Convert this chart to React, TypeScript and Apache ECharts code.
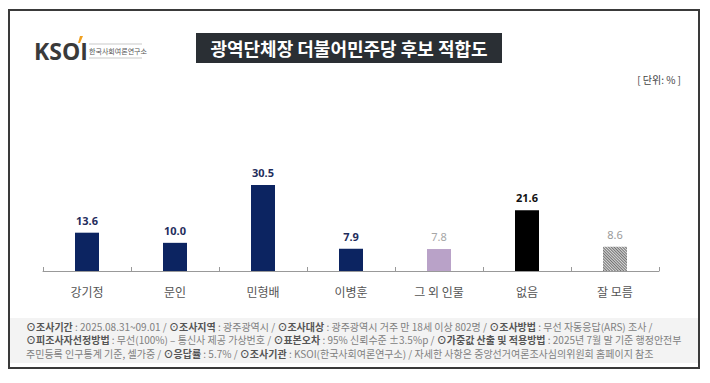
import React, { useEffect, useRef } from "react";
import * as echarts from "echarts";

const categories = ["강기정", "문인", "민형배", "이병훈", "그 외 인물", "없음", "잘 모름"];
const values = [13.6, 10.0, 30.5, 7.9, 7.8, 21.6, 8.6];
const barColors = ["#0c2461", "#0c2461", "#0c2461", "#0c2461", "#b9a2c8", "#000000", "#c8c8c8"];
const labelColors = ["#1f2d5c", "#1f2d5c", "#1f2d5c", "#1f2d5c", "#a6a6a6", "#111111", "#9a9a9a"];
const labelWeights = ["bold", "bold", "bold", "bold", "normal", "bold", "normal"];

const title = "광역단체장 더불어민주당 후보 적합도";
const unitText = "[ 단위: % ]";

type Seg = [string, boolean];
const footerLines: Seg[][] = [
  [
    ["⊙조사기간", true], [" : 2025.08.31~09.01 / ", false],
    ["⊙조사지역", true], [" : 광주광역시 / ", false],
    ["⊙조사대상", true], [" : 광주광역시 거주 만 18세 이상 802명 / ", false],
    ["⊙조사방법", true], [" : 무선 자동응답(ARS) 조사 /", false],
  ],
  [
    ["⊙피조사자선정방법", true], [" : 무선(100%) – 통신사 제공 가상번호 / ", false],
    ["⊙표본오차", true], [" : 95% 신뢰수준 ±3.5%p / ", false],
    ["⊙가중값 산출 및 적용방법", true], [" : 2025년 7월 말 기준 행정안전부", false],
  ],
  [
    ["주민등록 인구통계 기준, 셀가중 / ", false],
    ["⊙응답률", true], [" : 5.7% / ", false],
    ["⊙조사기관", true], [" : KSOI(한국사회여론연구소) / ", false],
    ["자세한 사항은 중앙선거여론조사심의위원회 홈페이지 참조", false],
  ],
];

const FONT = "'Noto Sans CJK KR', 'Noto Sans', sans-serif";

export default function App() {
  const ref = useRef<HTMLDivElement>(null);
  useEffect(() => {
    if (!ref.current) return;
    const chart = echarts.init(ref.current, null, { renderer: "svg" });

    const footerGraphics: any[] = footerLines.map((line, i) => ({
      type: "text",
      left: 26,
      top: 321 + i * 13.5,
      style: {
        text: line.map(([t, b]) => `{${b ? "b" : "n"}|${t}}`).join(""),
        rich: {
          b: { fontFamily: FONT, fontSize: 10, fontWeight: "bold", fill: "#555" },
          n: { fontFamily: FONT, fontSize: 10, fill: "#808080" },
        },
      },
    }));

    chart.setOption({
      animation: false,
      backgroundColor: "#ffffff",
      textStyle: { fontFamily: FONT },
      grid: { left: 43, right: 51, top: 102, bottom: 112, containLabel: false },
      xAxis: {
        type: "category",
        data: categories,
        axisLine: { lineStyle: { color: "#999", width: 1 } },
        axisTick: { show: true, inside: true, length: 4, lineStyle: { color: "#999" } },
        axisLabel: { color: "#555", fontSize: 12, margin: 14, fontFamily: FONT },
      },
      yAxis: { type: "value", min: 0, max: 60, show: false, splitLine: { show: false } },
      series: [
        {
          type: "bar",
          barWidth: 24,
          data: values.map((v, i) => ({
            value: v,
            itemStyle: i === 6
              ? {
                  color: "#dcdcdc",
                  decal: {
                    symbol: "rect",
                    color: "#707070",
                    dashArrayX: [1, 0],
                    dashArrayY: [1, 1],
                    rotation: Math.PI / 4,
                  },
                }
              : { color: barColors[i] },
            label: {
              show: true,
              position: "top",
              distance: 7,
              formatter: () => v.toFixed(1),
              color: labelColors[i],
              fontWeight: labelWeights[i],
              fontSize: 11,
              fontFamily: "'Noto Sans', sans-serif",
            },
          })),
        },
      ],
      graphic: [
        {
          type: "rect",
          shape: { x: 9, y: 10, width: 690, height: 358 },
          style: { fill: "#fff", stroke: "#3a3a3a", lineWidth: 2 },
          z: -10,
        },
        {
          type: "rect",
          shape: { x: 10, y: 318, width: 688, height: 45 },
          style: { fill: "#f3f3f3" },
          z: -9,
        },
        {
          type: "rect",
          shape: { x: 196, y: 33, width: 306, height: 30 },
          style: { fill: "#2a2f34" },
        },
        {
          type: "text",
          x: 349,
          y: 48,
          style: {
            text: title,
            fill: "#ffffff",
            fontSize: 18,
            fontWeight: "bold",
            fontFamily: FONT,
            align: "center",
            verticalAlign: "middle",
          },
        },
        {
          type: "text",
          x: 34,
          y: 51,
          style: {
            text: "KSOI",
            fill: "#3a3a3a",
            fontSize: 23,
            fontWeight: "bold",
            fontFamily: "'Open Sans', sans-serif",
            verticalAlign: "middle",
          },
        },
        {
          type: "polygon",
          shape: { points: [[80, 36], [83, 36], [80, 43], [78, 43]] },
          style: { fill: "#f0a020" },
        },
        {
          type: "line",
          shape: { x1: 89, y1: 44, x2: 142, y2: 44 },
          style: { stroke: "#bbb", lineWidth: 0.8 },
        },
        {
          type: "line",
          shape: { x1: 89, y1: 58, x2: 142, y2: 58 },
          style: { stroke: "#bbb", lineWidth: 0.8 },
        },
        {
          type: "text",
          x: 89,
          y: 51,
          style: {
            text: "한국사회여론연구소",
            fill: "#555",
            fontSize: 7,
            fontFamily: FONT,
            verticalAlign: "middle",
          },
        },
        {
          type: "text",
          x: 681,
          y: 79,
          style: {
            text: unitText,
            fill: "#444",
            fontSize: 10,
            fontFamily: FONT,
            align: "right",
            verticalAlign: "middle",
          },
        },
        ...footerGraphics,
      ],
    });
    return () => chart.dispose();
  }, []);
  return (
    <div
      ref={ref}
      style={{ position: "absolute", left: 0, top: 0, width: 710, height: 383 }}
    />
  );
}
